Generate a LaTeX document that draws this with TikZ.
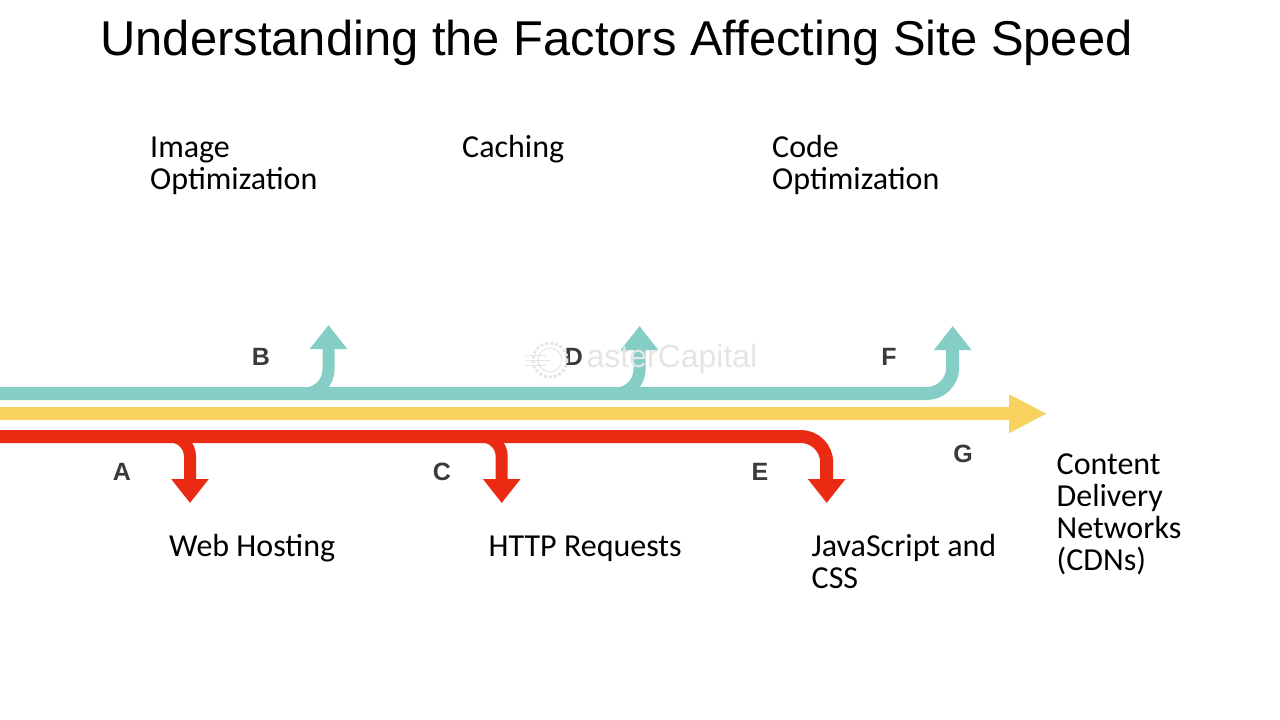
\documentclass[tikz,border=0pt]{standalone}
\usepackage{fontspec}
\setmainfont{Carlito}
\newfontfamily\titlefont{Liberation Sans}
\usetikzlibrary{arrows.meta}
\definecolor{tealband}{HTML}{85CEC5}
\definecolor{yellowband}{HTML}{F7D25F}
\definecolor{redband}{HTML}{EA2A12}
\definecolor{letterink}{HTML}{3A3A3A}
\tikzset{
  band/.style={line width=13.5pt, -{Triangle[width=36pt,length=38pt]}},
  stem/.style={line width=12pt, rounded corners=#1, -{Triangle[width=36pt,length=24pt]}},
  lbl/.style={anchor=north west, inner sep=0pt, align=left, font=\fontsize{32}{32}\selectfont},
  letter/.style={inner sep=0pt, text=letterink, font=\titlefont\bfseries\fontsize{25}{25}\selectfont}
}
\begin{document}
\begin{tikzpicture}[x=1pt, y=-1pt]
  \useasboundingbox (0,0) rectangle (1280,720);
%% title
	\node[inner sep=0pt, font=\titlefont\fontsize{48.9}{48.9}\selectfont] (title) at (616.5, 43) {Understanding the Factors Affecting Site Speed};
%% free ends of the bands
  \coordinate (tealin) at (0,393.5);
  \coordinate (yellowin) at (0,413.7);
  \coordinate (redin) at (0,436.5);
  \coordinate (yellowtip) at (1047,413.7);
%% teal bands
  \coordinate (bfork) at (296,393.5);
  \coordinate (btip) at (328.5,325);
  \coordinate (dfork) at (607,393.5);
  \coordinate (dtip) at (639.5,326);
  \coordinate (ftip) at (952.7,326);
  \draw[stem=24pt, tealband] (bfork) -| (btip);
  \draw[stem=24pt, tealband] (dfork) -| (dtip);
  \draw[stem=26pt, tealband, line width=13pt] (tealin) -| (ftip);
%% yellow band
  \draw[band, yellowband] (yellowin) -- (yellowtip);
%% red bands
  \coordinate (afork) at (158,436.5);
  \coordinate (atip) at (190,503);
  \coordinate (cfork) at (470,436.5);
  \coordinate (ctip) at (501.7,503);
  \coordinate (etip) at (826.7,503);
  \draw[stem=20pt, redband] (afork) -| (atip);
  \draw[stem=20pt, redband] (cfork) -| (ctip);
  \draw[stem=26pt, redband, line width=13pt] (redin) -| (etip);
%% letters
	\node[letter] (a) at (122, 472) {A};
	\node[letter] (b) at (261, 357) {B};
	\node[letter] (c) at (442, 472) {C};
	\node[letter] (d) at (574, 357) {D};
	\node[letter] (e) at (760, 472) {E};
	\node[letter] (f) at (889, 357) {F};
	\node[letter] (g) at (963, 454) {G};
%% labels above
	\node[lbl] (image) at (150, 134.6) {\strut Image\\Optimization};
	\node[lbl] (caching) at (462, 134.6) {\strut Caching};
	\node[lbl] (code) at (772, 134.6) {\strut Code\\Optimization};
%% labels below
	\node[lbl] (hosting) at (169, 533.6) {\strut Web Hosting};
	\node[lbl] (http) at (488.5, 533.6) {\strut HTTP Requests};
	\node[lbl] (js) at (811.5, 533.6) {\strut JavaScript and\\CSS};
	\node[lbl] (cdn) at (1056.5, 451.6) {\strut Content\\Delivery\\Networks\\(CDNs)};
%% watermark
  \draw[black!10, line width=3pt, dotted] (550,360) circle (17);
  \draw[black!10, line width=1pt] (550,360) circle (12);
  \draw[black!10, line width=1pt] (525,355) -- (546,355) (525,360) -- (550,360) (525,365) -- (546,365);
	\node[inner sep=0pt, text=black!10, font=\titlefont\fontsize{32}{32}\selectfont] (mark) at (672, 359) {asterCapital};
\end{tikzpicture}
\end{document}
